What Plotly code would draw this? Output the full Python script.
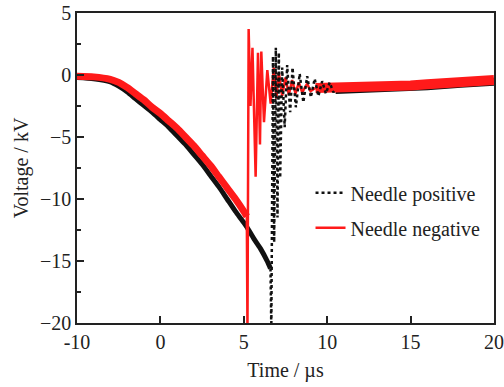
import plotly.graph_objects as go

# ---------------- data (visual time axis; first tick is labelled "-10" as in the source) -------------
pos_slow_t = [-5, -4, -3, -2.5, -2, -1.5, -1, -0.5, 0, 0.5, 1, 1.5, 2, 2.5, 3, 3.5, 4, 4.5, 5, 5.2,
              5.6, 6.0, 6.4, 6.6]
pos_slow_v = [-0.2, -0.3, -0.55, -0.9, -1.35, -1.9, -2.45, -3.0, -3.6, -4.2, -4.9, -5.6, -6.4, -7.2, -8.1,
              -9.0, -10.0, -11.0, -11.9, -12.3, -13.2, -14.0, -15.0, -15.6]

pos_osc_t = [6.6, 6.65, 6.75, 6.82, 6.92, 7.02, 7.1, 7.18, 7.3, 7.45, 7.6, 7.78, 7.92, 8.12, 8.35,
             8.57, 8.8, 9.02, 9.25, 9.47, 9.7, 9.92, 10.15, 10.37, 10.5]
pos_osc_v = [-15.6, -20.5, 1.5, -13.5, 2.2, -11.5, 1.8, -8.3, 0.6, -4.2, 0.8, -3.0, 0.6, -2.6, 0.1,
             -2.2, -0.1, -1.8, -0.3, -1.7, -0.5, -1.5, -0.6, -1.4, -1.1]

pos_tail_t = [10.5, 12, 14, 16, 18, 20]
pos_tail_v = [-1.2, -1.15, -1.05, -0.9, -0.7, -0.55]

neg_slow_t = [-5, -4, -3, -2.5, -2, -1.5, -1, -0.5, 0, 0.5, 1, 1.5, 2, 2.5, 3, 3.5, 4, 4.5, 5, 5.18]
neg_slow_v = [-0.1, -0.15, -0.35, -0.6, -1.0, -1.5, -2.0, -2.6, -3.1, -3.7, -4.3, -5.0, -5.7, -6.5,
              -7.3, -8.2, -9.1, -10.0, -11.0, -11.4]

neg_osc_t = [5.18, 5.22, 5.29, 5.40, 5.52, 5.71, 5.85, 5.97, 6.05, 6.21, 6.41, 6.61, 6.8, 6.95, 7.1,
             7.3, 7.5, 7.7, 7.9, 8.1, 8.3, 8.5, 8.8, 9.0, 9.3]
neg_osc_v = [-11.4, -20.5, 3.7, -2.5, 2.2, -8.2, 1.8, -5.6, 1.9, -3.8, 0.4, -2.3, 0.6, -1.9, 0.2,
             -1.7, -0.2, -1.6, -0.4, -1.5, -0.6, -1.4, -0.7, -1.3, -1.05]

neg_tail_t = [9.3, 10, 11, 12, 13, 14, 15, 16, 17, 18, 19, 20]
neg_tail_v = [-1.05, -1.05, -1.0, -1.0, -0.95, -0.9, -0.85, -0.75, -0.65, -0.55, -0.5, -0.4]

x_tickvals = [-5, 0, 5, 10, 15, 20]
x_ticktext = ["-10", "0", "5", "10", "15", "20"]
y_tickvals = [5, 0, -5, -10, -15, -20]

# ---------------- figure -------------
BLACK = "#111111"
RED = "#ff1a1a"
FONT = "Liberation Serif, Times New Roman, serif"
TXT = "#222222"

fig = go.Figure()
fig.add_trace(go.Scatter(x=pos_slow_t, y=pos_slow_v, mode="lines", legendgroup="pos", showlegend=False,
                         legendrank=1, line=dict(color=BLACK, width=5, shape="spline", smoothing=0.6),
                         hoverinfo="skip"))
fig.add_trace(go.Scatter(x=pos_tail_t, y=pos_tail_v, mode="lines", legendgroup="pos", showlegend=False,
                         legendrank=1, line=dict(color=BLACK, width=8), hoverinfo="skip"))
fig.add_trace(go.Scatter(x=neg_slow_t, y=neg_slow_v, mode="lines", legendgroup="neg", showlegend=False,
                         legendrank=2, line=dict(color=RED, width=7, shape="spline", smoothing=0.6),
                         hoverinfo="skip"))
fig.add_trace(go.Scatter(x=neg_tail_t, y=neg_tail_v, mode="lines", legendgroup="neg", showlegend=False,
                         legendrank=2, line=dict(color=RED, width=10), hoverinfo="skip"))
fig.add_trace(go.Scatter(x=neg_osc_t, y=neg_osc_v, mode="lines", legendgroup="neg", name="Needle negative",
                         legendrank=2, line=dict(color=RED, width=2.5)))
fig.add_trace(go.Scatter(x=pos_osc_t, y=pos_osc_v, mode="lines", legendgroup="pos", name="Needle positive",
                         legendrank=1, line=dict(color=BLACK, width=2.5, dash="dot")))

axis_common = dict(showline=True, linecolor=TXT, linewidth=1.5, mirror=True, showgrid=False,
                   zeroline=False, ticks="inside", ticklen=7, tickwidth=1.5, tickcolor=TXT,
                   automargin=False, tickfont=dict(family=FONT, size=20, color=TXT))

fig.update_xaxes(range=[-5, 20], tickmode="array", tickvals=x_tickvals, ticktext=x_ticktext,
                 title=dict(text="Time / µs", font=dict(family=FONT, size=20, color=TXT), standoff=11),
                 **axis_common)
fig.update_yaxes(range=[-20, 5], tickmode="array", tickvals=y_tickvals,
                 minor=dict(ticks="inside", ticklen=4, tickwidth=1.5, tickcolor=TXT, dtick=2.5),
                 title=dict(text="Voltage / kV", font=dict(family=FONT, size=20, color=TXT), standoff=6),
                 **axis_common)

fig.update_layout(
    width=504, height=387,
    margin=dict(l=77, r=10, t=13, b=64),
    paper_bgcolor="white", plot_bgcolor="white",
    showlegend=True,
    legend=dict(x=0.56, y=0.483, xanchor="left", yanchor="top", traceorder="grouped",
                tracegroupgap=6, bgcolor="rgba(0,0,0,0)",
                font=dict(family=FONT, size=20, color=TXT)),
)

# remove the default 8px page margin so the figure sits at the window's top-left corner
fig.write_html("out.html", config={"displayModeBar": False},
               post_script="document.body.style.margin='0';")
